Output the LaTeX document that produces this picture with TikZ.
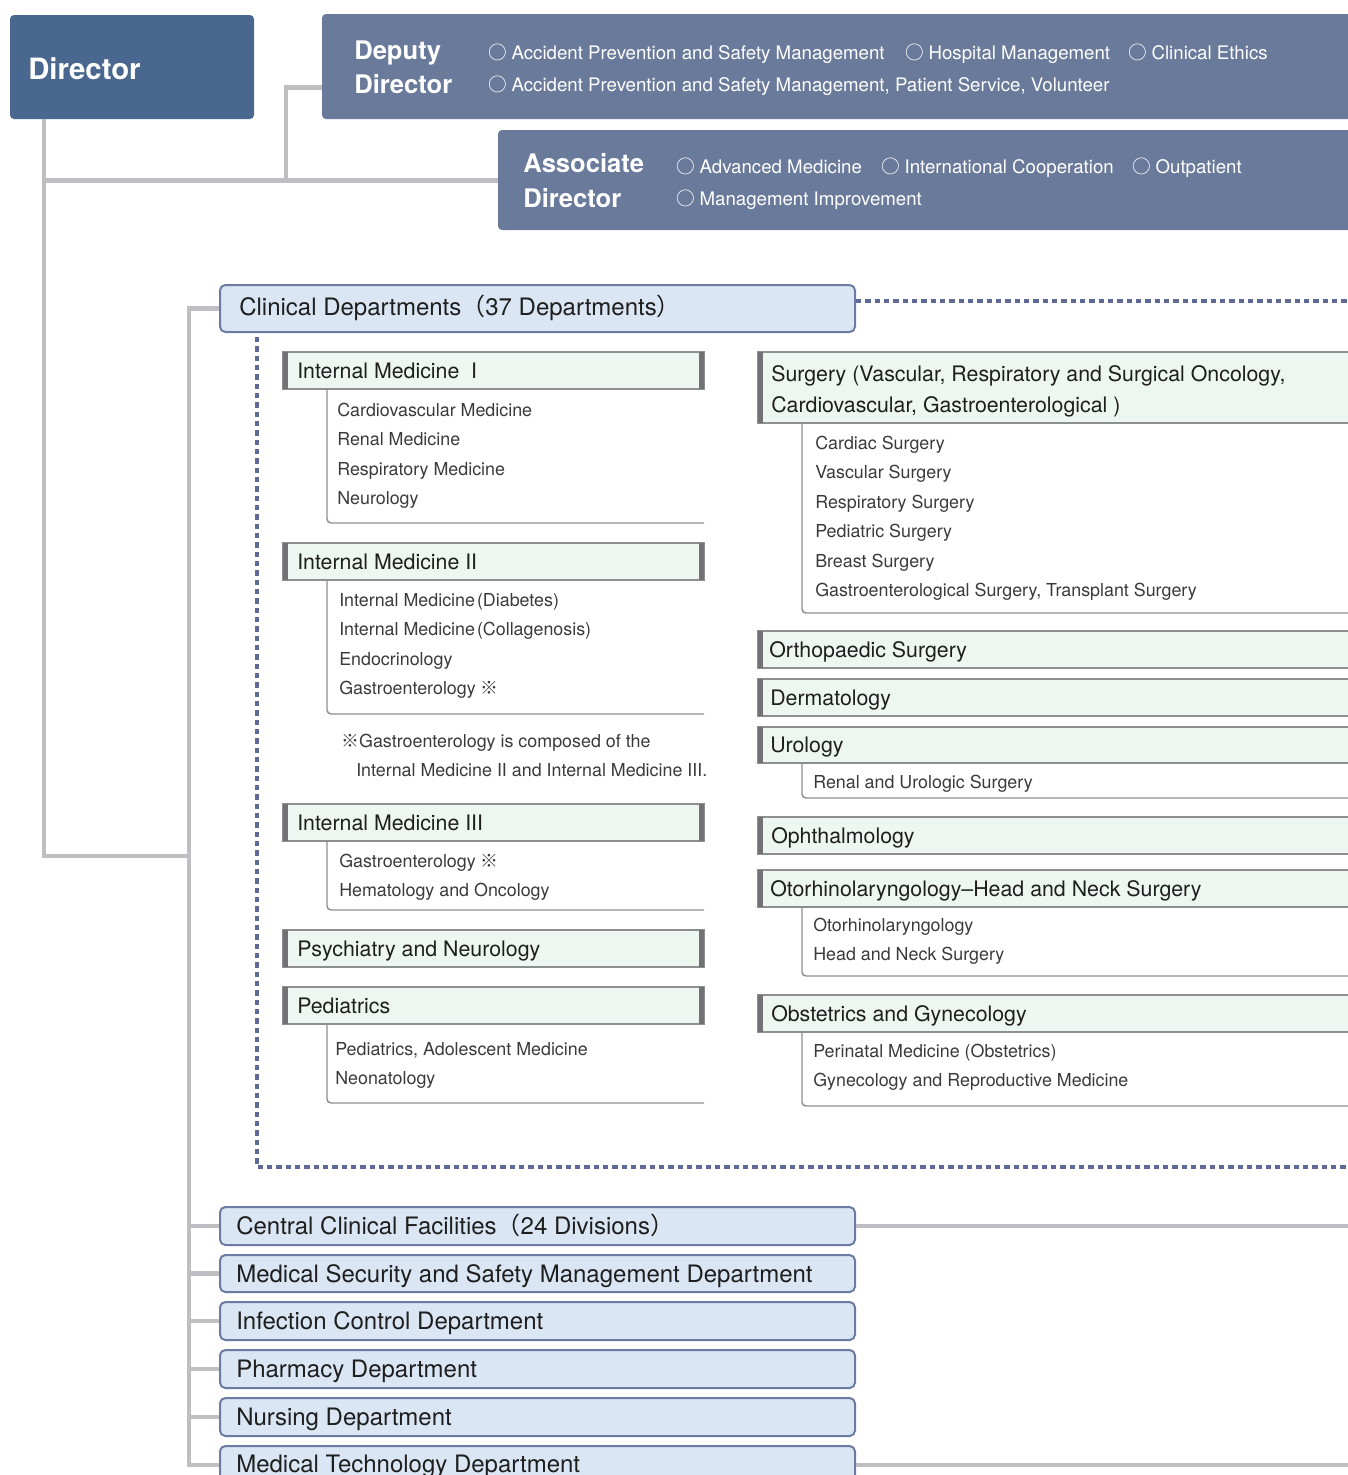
\documentclass[tikz,border=0pt]{standalone}
\usepackage{fontspec}
\setmainfont{TeX Gyre Heros}
\newfontfamily\cjk{Noto Sans CJK JP}
\usetikzlibrary{fit}
\definecolor{dirblue}{HTML}{4A688F}
\definecolor{depblue}{HTML}{6A7A9A}
\definecolor{conngray}{HTML}{BFBFC3}
\definecolor{cdfill}{HTML}{DAE6F3}
\definecolor{cdline}{HTML}{6B7BA1}
\definecolor{dotcol}{HTML}{5E6995}
\definecolor{hdfill}{HTML}{EEF6F1}
\definecolor{hdline}{HTML}{8E8E90}
\definecolor{hdbar}{HTML}{717176}
\definecolor{subcol}{HTML}{8F8F92}
\definecolor{txt}{HTML}{1E1E1E}
\definecolor{subtxt}{HTML}{3A3A3A}
\newcommand\HdrL[4]{%
  \node[hdbox, fit={(283,#2)(704,#3)}] (#1) {};
  \fill[hdbar] (283,#2) rectangle (288,#3);
  \fill[hdbar] (699,#2) rectangle (704,#3);
  \node[hdtxt] (#1t) at (297,{(#2+#3)/2}) {#4};}
\newcommand\HdrR[5]{%
  \node[hdbox, fit={(758,#2)(1370,#3)}] (#1) {};
  \fill[hdbar] (758,#2) rectangle (763,#3);
  \node[hdtxt] (#1t) at (#5,{(#2+#3)/2}) {#4};}
\newcommand\SubB[4]{\draw[subln] (#1,#2) |- (#3,#4);}
\newcommand\Items[4]{\foreach \t [count=\i] in {#4} \node[itm] (#1\i) at (#2,{#3+(\i-1)*29.4}) {\t};}
\newcommand\Circ{{\cjk ○}\hspace{3.5pt}}
\begin{document}
\begin{tikzpicture}[x=0.75pt,y=-0.75pt,
  conn/.style={draw=conngray, line width=3.6pt},
  dots/.style={draw=dotcol, line width=2.5pt, dash pattern=on 4pt off 3pt},
  dirbox/.style={fill=dirblue, rounded corners=3pt, inner sep=0pt},
  depbox/.style={fill=depblue, rounded corners=3pt, inner sep=0pt},
  cdbox/.style={fill=cdfill, draw=cdline, line width=1.5pt, rounded corners=4pt, inner sep=0pt},
  hdbox/.style={fill=hdfill, draw=hdline, line width=1.1pt, inner sep=0pt},
  subln/.style={draw=subcol, line width=1.1pt, rounded corners=3pt},
  lbl/.style={anchor=base west, inner sep=0pt},
  dirtxt/.style={lbl, yshift=-7.9pt, text=white, font=\fontsize{22pt}{26pt}\selectfont\bfseries},
  deptxt/.style={lbl, yshift=-6.9pt, text=white, font=\fontsize{19.2pt}{22pt}\selectfont\bfseries},
  bul/.style={lbl, yshift=-5pt, text=white, font=\fontsize{14pt}{17pt}\selectfont},
  hdtxt/.style={lbl, yshift=-5.8pt, text=txt, font=\fontsize{16pt}{19pt}\selectfont},
  itm/.style={lbl, yshift=-4.8pt, text=subtxt, font=\fontsize{13.4pt}{16pt}\selectfont},
  btxt/.style={lbl, yshift=-6.5pt, text=txt, font=\fontsize{18pt}{21pt}\selectfont}]
\useasboundingbox (0,0) rectangle (1348,1475);
\clip (0,0) rectangle (1348,1475);

% ---------- top boxes ----------
\node[dirbox, fit={(10,15)(254,119)}] (dir) {};
\node[dirtxt] (dirt) at (28,68.5) {Director};
\node[depbox, fit={(322,14)(1370,119)}] (dep) {};
\node[deptxt] (dept1) at (354,50) {Deputy};
\node[deptxt] (dept2) at (354,84) {Director};
\node[bul] (db1) at (488,53) {\Circ Accident Prevention and Safety Management};
\node[bul] (db2) at (905,53) {\Circ Hospital Management};
\node[bul] (db3) at (1128,53) {\Circ Clinical Ethics};
\node[bul] (db4) at (488,85) {\Circ Accident Prevention and Safety Management, Patient Service, Volunteer};
\node[depbox, fit={(498,130)(1370,230)}] (asc) {};
\node[deptxt] (asct1) at (523,163) {Associate};
\node[deptxt] (asct2) at (523,198) {Director};
\node[bul] (ab1) at (676,167) {\Circ Advanced Medicine};
\node[bul] (ab2) at (881,167) {\Circ International Cooperation};
\node[bul] (ab3) at (1132,167) {\Circ Outpatient};
\node[bul] (ab4) at (676,199) {\Circ Management Improvement};

% ---------- clinical departments ----------
\node[cdbox, fit={(220,285)(855,332)}] (cd) {};
\node[btxt] (cdt) at (239,307) {Clinical Departments{\cjk （}37 Departments{\cjk ）}};

% ---------- junction coordinates ----------
\coordinate (jA) at (44,180.5);
\coordinate (jB) at (286,180.5);
\coordinate (jC) at (44,856);
\coordinate (vb) at (189,856);
\coordinate (rE) at (1370,0);
\coordinate (dR) at (1370,301);
\coordinate (dTop) at (257,337);
\coordinate (dBR) at (1370,1167);

% ---------- connectors ----------
\draw[conn] (dir.south west -| jA) -- (jC) -- (vb);
\draw[conn] (jA) -- (asc.west |- jA);
\draw[conn] (jB) |- ([yshift=-16pt]dep.west);

% ---------- dotted frame ----------
\draw[dots] (cd.east |- dR) -- (dR);
\draw[dots] (dTop) |- (dBR);

% ---------- left column ----------
\HdrL{imA}{352}{389}{Internal Medicine\ \ I}
\SubB{327}{389}{704}{523}
\Items{imAi}{337}{410}{Cardiovascular Medicine,Renal Medicine,Respiratory Medicine,Neurology}

\HdrL{imB}{543}{580}{Internal Medicine II}
\SubB{327}{580}{704}{714}
\Items{imBi}{339}{600}{{Internal Medicine\hspace{1.5pt}(Diabetes)},{Internal Medicine\hspace{1.5pt}(Collagenosis)},Endocrinology,{Gastroenterology {\cjk ※}}}

\node[itm] (note1) at (341,741) {{\cjk ※}Gastroenterology is composed of the};
\node[itm] (note2) at (356,770) {Internal Medicine II and Internal Medicine III.};

\HdrL{imC}{804}{841}{Internal Medicine III}
\SubB{327}{841}{704}{910}
\Items{imCi}{339}{861}{{Gastroenterology {\cjk ※}},Hematology and Oncology}

\HdrL{psy}{930}{967}{Psychiatry and Neurology}

\HdrL{ped}{987}{1024}{Pediatrics}
\SubB{327}{1024}{704}{1103}
\Items{pedi}{335}{1049}{{Pediatrics, Adolescent Medicine},Neonatology}

% ---------- right column ----------
\node[hdbox, fit={(758,352)(1370,423)}] (sur) {};
\fill[hdbar] (758,352) rectangle (763,423);
\node[hdtxt] (surt1) at (771,374) {Surgery (Vascular, Respiratory and Surgical Oncology,};
\node[hdtxt] (surt2) at (771,405) {Cardiovascular, Gastroenterological )};
\SubB{802}{423}{1370}{613}
\Items{suri}{815}{443}{Cardiac Surgery,Vascular Surgery,Respiratory Surgery,Pediatric Surgery,Breast Surgery,{Gastroenterological Surgery, Transplant Surgery}}

\HdrR{ort}{631}{668}{Orthopaedic Surgery}{769}
\HdrR{der}{679}{716}{Dermatology}{770}
\HdrR{uro}{727}{763}{Urology}{770}
\SubB{802}{763}{1370}{798}
\Items{uroi}{813}{782}{Renal and Urologic Surgery}
\HdrR{oph}{817}{854}{Ophthalmology}{771}
\HdrR{oto}{870}{907}{Otorhinolaryngology–Head and Neck Surgery}{770}
\SubB{802}{907}{1370}{976}
\Items{otoi}{813}{925}{Otorhinolaryngology,Head and Neck Surgery}
\HdrR{obs}{995}{1032}{Obstetrics and Gynecology}{771}
\SubB{802}{1032}{1370}{1106}
\Items{obsi}{813}{1051}{Perinatal Medicine (Obstetrics),Gynecology and Reproductive Medicine}

% ---------- bottom boxes ----------
\node[cdbox, fit={(220,1207)(855,1245)}] (ccf) {};
\node[btxt] (ccft) at (236,1226) {Central Clinical Facilities{\cjk （}24 Divisions{\cjk ）}};
\node[cdbox, fit={(220,1255)(855,1292)}] (msd) {};
\node[btxt] (msdt) at (236,1274) {Medical Security and Safety Management Department};
\node[cdbox, fit={(220,1302)(855,1340)}] (icd) {};
\node[btxt] (icdt) at (236,1321) {Infection Control Department};
\node[cdbox, fit={(220,1350)(855,1388)}] (phd) {};
\node[btxt] (phdt) at (236,1369) {Pharmacy Department};
\node[cdbox, fit={(220,1398)(855,1436)}] (nud) {};
\node[btxt] (nudt) at (236,1417) {Nursing Department};
\node[cdbox, fit={(220,1446)(855,1484)}] (mtd) {};
\node[btxt] (mtdt) at (236,1464) {Medical Technology Department};

% ---------- main vertical and branches ----------
\draw[conn] (cd.west) -| (vb |- mtd.west) -- (mtd.west);
\foreach \n in {ccf,msd,icd,phd,nud} \draw[conn] (vb |- \n.west) -- (\n.west);
\draw[conn] (ccf.east) -- (rE |- ccf.east);
\draw[conn] (mtd.east) -- (rE |- mtd.east);
\end{tikzpicture}
\end{document}
